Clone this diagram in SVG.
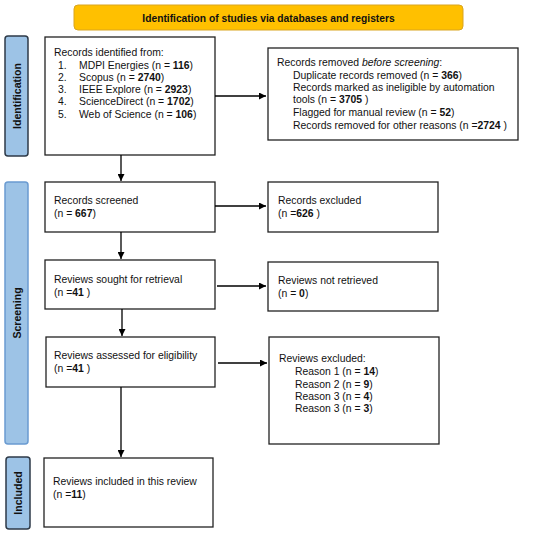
<svg xmlns="http://www.w3.org/2000/svg" width="550" height="534" viewBox="0 0 550 534">
<defs>
<marker id="ah" viewBox="0 0 10 10" refX="10" refY="5" markerWidth="8" markerHeight="7" markerUnits="userSpaceOnUse" orient="auto">
<path d="M0,0 L10,5 L0,10 z" fill="#000"/>
</marker>
<style>
.box{fill:#fff;stroke:#222;stroke-width:1.3}
.t{font-family:"Liberation Sans",Arial,sans-serif;font-size:10.4px;fill:#111}
.b{font-weight:bold}
.side{fill:#9DC3E6;stroke:#2E3A48;stroke-width:1.5}
.sidet{font-family:"Liberation Sans",Arial,sans-serif;font-size:10.6px;font-weight:bold;fill:#111;text-anchor:middle}
.c{fill:none;stroke:#000;stroke-width:1.3;marker-end:url(#ah)}
</style>
</defs>
<rect width="550" height="534" fill="#fff"/>

<g id="banner">
<rect x="74" y="5" width="389" height="25" rx="4" fill="#FFC000" stroke="#D9A520" stroke-width="1"/>
<text class="t b" x="268.5" y="21.5" text-anchor="middle" style="font-size:10.25px">Identification of studies via databases and registers</text>
</g>

<g id="label-identification">
<rect class="side" x="5" y="36" width="23" height="120" rx="3"/>
<text class="sidet" transform="translate(20.5,96) rotate(-90)">Identification</text>
</g>
<g id="label-screening">
<rect class="side" x="5" y="182" width="23" height="262" rx="3" style="stroke:#6A9BD1"/>
<text class="sidet" transform="translate(20.5,313) rotate(-90)">Screening</text>
</g>
<g id="label-included">
<rect class="side" x="6" y="457" width="24" height="72" rx="3"/>
<text class="sidet" transform="translate(22,493) rotate(-90)">Included</text>
</g>

<g id="records-identified">
<rect class="box" x="45" y="37" width="170" height="118"/>
<text class="t" x="54" y="56">Records identified from:</text>
<text class="t" x="58" y="68.5">1.</text><text class="t" x="79" y="68.5">MDPI Energies (n = <tspan class="b">116</tspan>)</text>
<text class="t" x="58" y="80.5">2.</text><text class="t" x="79" y="80.5">Scopus (n = <tspan class="b">2740</tspan>)</text>
<text class="t" x="58" y="93">3.</text><text class="t" x="79" y="93">IEEE Explore (n = <tspan class="b">2923</tspan>)</text>
<text class="t" x="58" y="105">4.</text><text class="t" x="79" y="105">ScienceDirect (n = <tspan class="b">1702</tspan>)</text>
<text class="t" x="58" y="117.5">5.</text><text class="t" x="79" y="117.5">Web of Science (n = <tspan class="b">106</tspan>)</text>
</g>

<g id="records-removed">
<rect class="box" x="268" y="48" width="250" height="92"/>
<text class="t" x="277" y="66">Records removed <tspan font-style="italic">before screening</tspan>:</text>
<text class="t" x="293" y="78.5">Duplicate records removed  (n = <tspan class="b">366</tspan>)</text>
<text class="t" x="293" y="91">Records marked as ineligible by automation</text>
<text class="t" x="293" y="103">tools (n = <tspan class="b">3705</tspan> )</text>
<text class="t" x="293" y="116">Flagged for manual review (n = <tspan class="b">52</tspan>)</text>
<text class="t" x="293" y="128.5">Records removed for other reasons (n =<tspan class="b">2724</tspan> )</text>
</g>

<g id="records-screened">
<rect class="box" x="45" y="182" width="170" height="50"/>
<text class="t" x="54" y="204">Records screened</text>
<text class="t" x="54" y="217">(n = <tspan class="b">667</tspan>)</text>
</g>

<g id="records-excluded">
<rect class="box" x="268" y="182" width="170" height="50"/>
<text class="t" x="278" y="204">Records excluded</text>
<text class="t" x="278" y="217">(n =<tspan class="b">626</tspan> )</text>
</g>

<g id="reviews-sought">
<rect class="box" x="45" y="260" width="170" height="49"/>
<text class="t" x="54" y="283">Reviews sought for retrieval</text>
<text class="t" x="54" y="296">(n =<tspan class="b">41</tspan> )</text>
</g>

<g id="reviews-not-retrieved">
<rect class="box" x="268" y="262" width="170" height="49"/>
<text class="t" x="278" y="284">Reviews not retrieved</text>
<text class="t" x="278" y="297">(n = <tspan class="b">0</tspan>)</text>
</g>

<g id="reviews-assessed">
<rect class="box" x="46" y="337" width="169" height="50"/>
<text class="t" x="54" y="359">Reviews assessed for eligibility</text>
<text class="t" x="54" y="372">(n =<tspan class="b">41</tspan> )</text>
</g>

<g id="reviews-excluded">
<rect class="box" x="269" y="337" width="170" height="107"/>
<text class="t" x="279" y="362">Reviews excluded:</text>
<text class="t" x="295" y="375">Reason 1 (n = <tspan class="b">14</tspan>)</text>
<text class="t" x="295" y="387.5">Reason 2 (n = <tspan class="b">9</tspan>)</text>
<text class="t" x="295" y="399.5">Reason 3 (n = <tspan class="b">4</tspan>)</text>
<text class="t" x="295" y="412">Reason 3 (n = <tspan class="b">3</tspan>)</text>
</g>

<g id="reviews-included">
<rect class="box" x="44" y="458" width="169" height="69"/>
<text class="t" x="53" y="485">Reviews included in this review</text>
<text class="t" x="53" y="498">(n =<tspan class="b">11</tspan>)</text>
</g>

<g id="connectors">
<path class="c" d="M215,96 H266"/>
<path class="c" d="M121,155 V181"/>
<path class="c" d="M215,206 H266"/>
<path class="c" d="M121,232 V259"/>
<path class="c" d="M217,286 H266"/>
<path class="c" d="M122,309 V336"/>
<path class="c" d="M218,363 H267"/>
<path class="c" d="M121,387 V457"/>
</g>
</svg>
